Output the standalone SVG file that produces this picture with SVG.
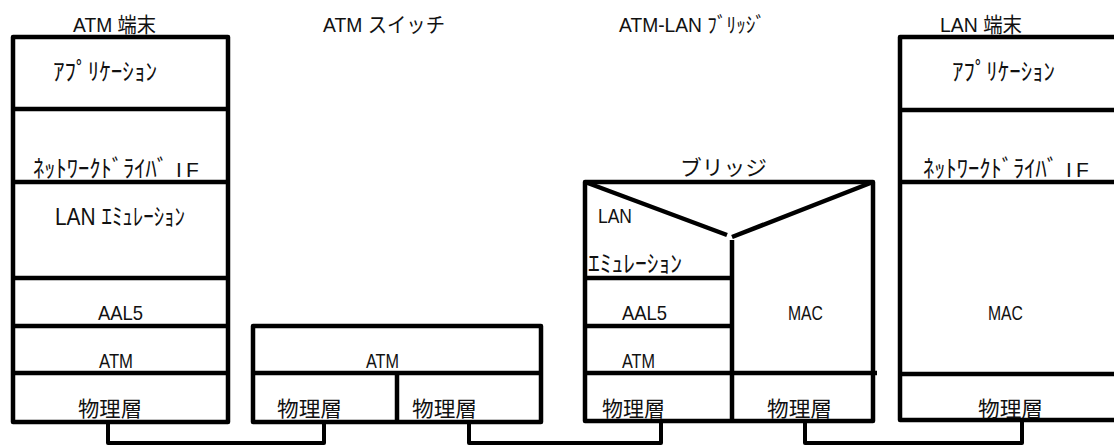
<svg xmlns="http://www.w3.org/2000/svg" width="1114" height="447" viewBox="0 0 1114 447">
<style>
.box{fill:none;stroke:#000;stroke-width:4.5;stroke-linejoin:round;stroke-linecap:butt}
.ln{fill:none;stroke:#000;stroke-width:4.5}
.conn{fill:none;stroke:#000;stroke-width:4;stroke-linejoin:round}
text{font-family:"Liberation Sans","Noto Sans CJK JP",sans-serif;fill:#111;font-size:21px}
.k{font-size:21px}
.t{font-size:21px}
.h{font-size:24px}
.f{font-size:21px}
</style>
<rect width="1114" height="447" fill="#fff"/>
<g id="atm-terminal">
<text class="t" x="73" y="32" textLength="83" lengthAdjust="spacingAndGlyphs">ATM 端末</text>
<rect class="box" x="13" y="37" width="215" height="385"/>
<line class="ln" x1="13" y1="109" x2="228" y2="109"/>
<line class="ln" x1="13" y1="182" x2="228" y2="182"/>
<line class="ln" x1="13" y1="278" x2="228" y2="278"/>
<line class="ln" x1="13" y1="326" x2="228" y2="326"/>
<line class="ln" x1="13" y1="373" x2="228" y2="373"/>
<text class="h" x="53" y="80" textLength="104" lengthAdjust="spacingAndGlyphs">ｱﾌﾟﾘｹｰｼｮﾝ</text>
<text class="h" x="33" y="177"><tspan textLength="135" lengthAdjust="spacingAndGlyphs">ﾈｯﾄﾜｰｸﾄﾞﾗｲﾊﾞ</tspan> <tspan class="f" x="176">I</tspan><tspan class="f" x="186">F</tspan></text>
<text class="h" x="55" y="225" textLength="130" lengthAdjust="spacingAndGlyphs">LAN ｴﾐｭﾚｰｼｮﾝ</text>
<text x="98" y="320" textLength="45" lengthAdjust="spacingAndGlyphs">AAL5</text>
<text x="99" y="368" textLength="34" lengthAdjust="spacingAndGlyphs">ATM</text>
<text class="k" x="78" y="416" textLength="64" lengthAdjust="spacingAndGlyphs">物理層</text>
</g>
<g id="atm-switch">
<text class="t" x="323" y="32" textLength="122" lengthAdjust="spacingAndGlyphs">ATM スイッチ</text>
<rect class="box" x="253" y="326" width="288" height="96"/>
<line class="ln" x1="253" y1="373" x2="541" y2="373"/>
<line class="ln" x1="397" y1="373" x2="397" y2="422"/>
<text x="366" y="368" textLength="33" lengthAdjust="spacingAndGlyphs">ATM</text>
<text class="k" x="277" y="416" textLength="65" lengthAdjust="spacingAndGlyphs">物理層</text>
<text class="k" x="412" y="416" textLength="65" lengthAdjust="spacingAndGlyphs">物理層</text>
</g>
<g id="atm-lan-bridge">
<text class="t" x="619" y="32" textLength="146" lengthAdjust="spacingAndGlyphs">ATM-LAN ﾌﾞﾘｯｼﾞ</text>
<text class="t" x="680" y="175" textLength="87" lengthAdjust="spacingAndGlyphs">ブリッジ</text>
<path class="box" d="M585,182 H873 V421 H585 Z"/>
<line class="ln" x1="585" y1="182" x2="727" y2="235"/>
<line class="ln" x1="732" y1="237" x2="873" y2="182"/>
<line class="ln" x1="732" y1="240" x2="732" y2="421"/>
<line class="ln" x1="585" y1="278" x2="732" y2="278"/>
<line class="ln" x1="585" y1="326" x2="732" y2="326"/>
<line class="ln" x1="585" y1="373" x2="877" y2="373"/>
<text x="598" y="223" textLength="34" lengthAdjust="spacingAndGlyphs">LAN</text>
<text class="h" x="588" y="272" textLength="94" lengthAdjust="spacingAndGlyphs">ｴﾐｭﾚｰｼｮﾝ</text>
<text x="622" y="320" textLength="45" lengthAdjust="spacingAndGlyphs">AAL5</text>
<text x="622" y="368" textLength="33" lengthAdjust="spacingAndGlyphs">ATM</text>
<text x="788" y="320" textLength="35" lengthAdjust="spacingAndGlyphs">MAC</text>
<text class="k" x="602" y="416" textLength="63" lengthAdjust="spacingAndGlyphs">物理層</text>
<text class="k" x="767" y="416" textLength="65" lengthAdjust="spacingAndGlyphs">物理層</text>
</g>
<g id="lan-terminal">
<text class="t" x="940" y="32" textLength="82" lengthAdjust="spacingAndGlyphs">LAN 端末</text>
<path class="box" d="M1116,37 H900 V420 H1116"/>
<line class="ln" x1="900" y1="110" x2="1114" y2="110"/>
<line class="ln" x1="900" y1="182" x2="1114" y2="182"/>
<line class="ln" x1="900" y1="374" x2="1114" y2="374"/>
<text class="h" x="952" y="80" textLength="103" lengthAdjust="spacingAndGlyphs">ｱﾌﾟﾘｹｰｼｮﾝ</text>
<text class="h" x="923" y="177"><tspan textLength="135" lengthAdjust="spacingAndGlyphs">ﾈｯﾄﾜｰｸﾄﾞﾗｲﾊﾞ</tspan> <tspan class="f" x="1066">I</tspan><tspan class="f" x="1076">F</tspan></text>
<text x="988" y="320" textLength="35" lengthAdjust="spacingAndGlyphs">MAC</text>
<text class="k" x="978" y="416" textLength="65" lengthAdjust="spacingAndGlyphs">物理層</text>
</g>
<g id="connectors">
<polyline class="conn" points="108,422 108,443 324,443 324,422"/>
<polyline class="conn" points="469,422 469,443 661,443 661,421"/>
<polyline class="conn" points="805,421 805,443 1022,443 1022,420"/>
</g>
</svg>
